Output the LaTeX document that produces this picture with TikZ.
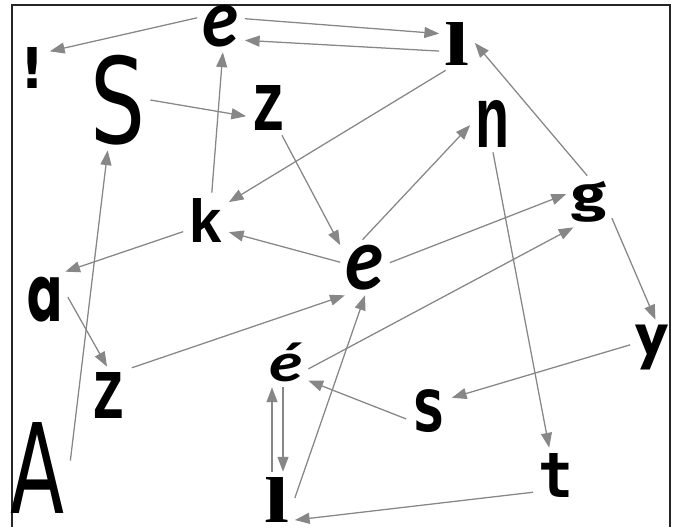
\documentclass[tikz,border=0pt]{standalone}
\usepackage{fontspec}
\usetikzlibrary{arrows.meta, calc}
\newfontfamily\lato{Lato}
\newfontfamily\libserif{Liberation Serif}
\newfontfamily\libmono{Liberation Mono}
\newfontfamily\libsans{Liberation Sans}
\newfontfamily\dejavu{DejaVu Sans}
\newfontfamily\dejamono{DejaVu Sans Mono}
\newfontfamily\poppins{Poppins}
\newfontfamily\fira{Fira Sans}
\newlength{\px}\setlength{\px}{0.025cm}
\newcommand{\glyph}[3]{\resizebox*{#1\px}{#2\px}{#3}}
\definecolor{edgegray}{HTML}{878787}

\begin{document}
\begin{tikzpicture}[x=0.025cm, y=-0.025cm,
  letter/.style={inner sep=3.8pt, outer sep=0pt},
  arr/.style={-{Triangle[length=10.5pt,width=7.8pt]}, draw=edgegray, fill=edgegray, line width=0.9pt}
]
  \useasboundingbox (0,0) rectangle (675,527);
  \draw[line width=1pt, black!85] (12,527) -- (12,5) -- (670,5) -- (670,527);
  % letters
  \node[letter] (e1)   at (221,26)    {\glyph{37}{42}{\lato\bfseries\itshape e}};
  \node[letter] (l1)   at (457,43.5)  {\glyph{25}{43}{\libserif\bfseries l}};
  \node[letter] (excl) at (32.5,67.5) {\glyph{24}{41}{\dejavu\bfseries !}};
  \node[letter] (S)    at (117.5,100) {\glyph{55}{90}{\dejavu S}};
  \node[letter] (z1)   at (269,107.5) {\glyph{35}{45}{\libmono\bfseries z}};
  \node[letter] (n)    at (492.5,123.5) {\glyph{34}{47}{\libmono\bfseries n}};
  \node[letter] (g)    at (589,201.5) {\glyph{35}{41}{\fira\bfseries g}};
  \node[letter] (k)    at (206,220)   {\glyph{35}{44}{\libmono\bfseries k}};
  \node[letter] (e2)   at (365,267.5) {\glyph{39}{45}{\lato\bfseries\itshape e}};
  \node[letter] (a)    at (45,299.5)  {\glyph{35}{45}{\poppins\bfseries a}};
  \node[letter] (y)    at (652,347.5) {\glyph{33}{45}{\poppins\bfseries y}};
  \node[letter] (z2)   at (109,395)   {\glyph{35}{46}{\libmono\bfseries z}};
  \node[letter] (eac)  at (286,362.5) {\glyph{34}{39}{\lato\bfseries\itshape é}};
  \node[letter] (s)    at (429,411.5) {\glyph{35}{43}{\dejamono\bfseries s}};
  \node[letter] (A)    at (38,467.5)  {\glyph{54}{91}{\dejavu A}};
  \node[letter] (t)    at (556,475)   {\glyph{35}{44}{\dejamono\bfseries t}};
  \node[letter] (l2)   at (277,499.5) {\glyph{25}{45}{\libserif\bfseries l}};
  % connectors
  \draw[arr] (e1.161) -- (excl.43);
  \draw[arr] (e1.17) -- (l1.151);
  \draw[arr] (l1.203) -- (e1.329);
  \draw[arr] (l1.247) -- (k.38);
  \draw[arr] (S.0) -- (z1.201);
  \draw[arr] (A.12) -- (S.259);
  \draw[arr] (k.78) -- (e1.274);
  \draw[arr] (z1.295) -- (e2.138);
  \draw[arr] (e2.95) -- (n.184);
  \draw[arr] (e2.168) -- (k.332);
  \draw[arr] (e2.11) -- (g.162);
  \draw[arr] (g.94) -- (l1.2);
  \draw[arr] (n.271) -- (t.104);
  \draw[arr] (g.324) -- (y.83);
  \draw[arr] (k.207) -- (a.54);
  \draw[arr] (a.6) -- (z2.94);
  \draw[arr] (z2.50) -- (e2.234);
  \draw[arr] (eac.344) -- (g.239);
  \draw[arr] (y.173) -- (s.31);
  \draw[arr] (s.198) -- (eac.321);
  \draw[arr] ($(l2.north)+(-5,0)$) -- ($(l2.north |- eac.south)+(-5,0)$);
  \draw[arr] ($(l2.north |- eac.south)+(6,0)$) -- ($(l2.north)+(6,0)$);
  \draw[arr] (l2.5) -- (e2.270);
  \draw[arr] (t.217) -- (l2.311);
\end{tikzpicture}
\end{document}
